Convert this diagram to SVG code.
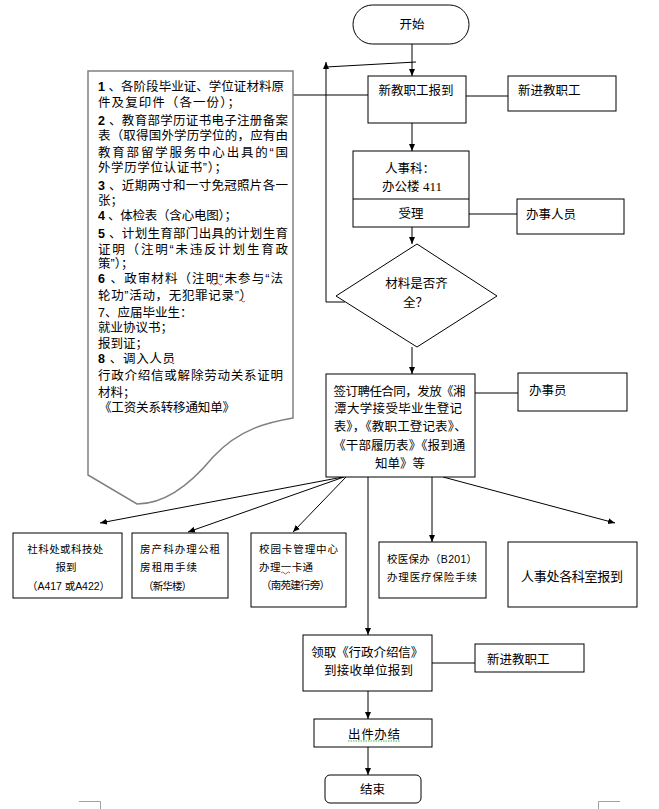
<svg xmlns="http://www.w3.org/2000/svg" width="659" height="809" viewBox="0 0 659 809">
<style>
text{font-family:'Liberation Sans','Noto Sans CJK SC',sans-serif;font-size:12.5px;fill:#000}
.s{font-size:10.5px}
.b{font-weight:bold}
.box{fill:#fff;stroke:#000;stroke-width:1}
.doc{fill:#fff;stroke:#808080;stroke-width:1.5}
.ln{fill:none;stroke:#000;stroke-width:1}
.c{text-anchor:middle}
.sq{fill:none;stroke-width:0.9}
</style>
<defs>
<marker id="arr" viewBox="0 0 8 8" refX="8" refY="4" markerWidth="7" markerHeight="7" orient="auto" markerUnits="userSpaceOnUse"><path d="M0,0.6 L8,4 L0,7.4 z" fill="#000"/></marker>
</defs>
<rect width="659" height="809" fill="#fff"/>

<g id="connectors">
<path class="ln" d="M412,44 V76" marker-end="url(#arr)"/>
<path class="ln" d="M412,123 V151" marker-end="url(#arr)"/>
<path class="ln" d="M412,227 V244" marker-end="url(#arr)"/>
<path class="ln" d="M412,347 V374" marker-end="url(#arr)"/>
<path class="ln" d="M466,96 H508"/>
<path class="ln" d="M293,95 H368"/>
<path class="ln" d="M469,214 H517"/>
<path class="ln" d="M345,302 H326 V62" marker-end="url(#arr)"/>
<path class="ln" d="M326,67 L416,62"/>
<path class="ln" d="M475,393 H518"/>
<path class="ln" d="M343,477 L100,523" marker-end="url(#arr)"/>
<path class="ln" d="M344,477 L188,532" marker-end="url(#arr)"/>
<path class="ln" d="M346,477 L293,532" marker-end="url(#arr)"/>
<path class="ln" d="M368,477 V635" marker-end="url(#arr)"/>
<path class="ln" d="M432,477 V542" marker-end="url(#arr)"/>
<path class="ln" d="M443,477 L615,523" marker-end="url(#arr)"/>
<path class="ln" d="M432,663 H475"/>
<path class="ln" d="M368,691 V719" marker-end="url(#arr)"/>
<path class="ln" d="M368,747 V775" marker-end="url(#arr)"/>
</g>

<g id="materials">
<path class="doc" d="M88,71 H293 V418 C270,422 240,428 213,457 C190,485 165,504 137,504 L88,475 Z"/>
<text>
<tspan x="98" y="90.5" textLength="186" lengthAdjust="spacing"><tspan class="b">1</tspan> 、各阶段毕业证、学位证材料原</tspan>
<tspan x="98" y="106.5" textLength="142" lengthAdjust="spacing">件及复印件（各一份）；</tspan>
<tspan x="98" y="124.5" textLength="190" lengthAdjust="spacing"><tspan class="b">2</tspan> 、教育部学历证书电子注册备案</tspan>
<tspan x="98" y="139.5" textLength="190" lengthAdjust="spacing">表（取得国外学历学位的，应有由</tspan>
<tspan x="98" y="156.5" textLength="190" lengthAdjust="spacing">教育部留学服务中心出具的“国</tspan>
<tspan x="98" y="171.5" textLength="129" lengthAdjust="spacing">外学历学位认证书”）；</tspan>
<tspan x="98" y="189.5" textLength="190" lengthAdjust="spacing"><tspan class="b">3</tspan> 、近期两寸和一寸免冠照片各一</tspan>
<tspan x="98" y="204.5">张；</tspan>
<tspan x="98" y="219.5" textLength="139" lengthAdjust="spacing"><tspan class="b">4</tspan> 、体检表（含心电图）；</tspan>
<tspan x="98" y="237.5" textLength="190" lengthAdjust="spacing"><tspan class="b">5</tspan> 、计划生育部门出具的计划生育</tspan>
<tspan x="98" y="253.5" textLength="190" lengthAdjust="spacing">证明（注明“未违反计划生育政</tspan>
<tspan x="98" y="267.5">策”）；</tspan>
<tspan x="98" y="282.5" textLength="185" lengthAdjust="spacing"><tspan class="b">6</tspan> 、政审材料（注明“未参与“法</tspan>
<tspan x="98" y="299.5" textLength="154" lengthAdjust="spacing">轮功”活动，无犯罪记录”）</tspan>
<tspan x="98" y="316.5">7、应届毕业生：</tspan>
<tspan x="98" y="331.5">就业协议书；</tspan>
<tspan x="98" y="347.5">报到证；</tspan>
<tspan x="98" y="362.5" textLength="77" lengthAdjust="spacing"><tspan class="b">8</tspan> 、调入人员</tspan>
<tspan x="98" y="379.5" textLength="185" lengthAdjust="spacing">行政介绍信或解除劳动关系证明</tspan>
<tspan x="98" y="396.5">材料；</tspan>
<tspan x="99" y="411.5" textLength="136" lengthAdjust="spacing">《工资关系转移通知单》</tspan>
</text>
</g>

<g id="start">
<rect class="box" x="353" y="5" width="116" height="39" rx="19.5"/>
<text class="c" x="412" y="28.5">开始</text>
</g>

<g id="report">
<rect class="box" x="368" y="76" width="98" height="47"/>
<text class="c" x="416" y="94.5">新教职工报到</text>
</g>

<g id="newstaff1">
<rect class="box" x="508" y="76" width="108" height="35"/>
<text x="518" y="94.5">新进教职工</text>
</g>

<g id="hr">
<rect class="box" x="353" y="151" width="116" height="76"/>
<line class="ln" x1="353" y1="199" x2="469" y2="199"/>
<text><tspan x="385" y="172.5">人事科：</tspan><tspan x="382" y="190.5">办公楼 <tspan style="font-family:'Liberation Serif',serif;font-size:13px">411</tspan></tspan></text>
<text class="c" x="411" y="217.5">受理</text>
</g>

<g id="clerk1">
<rect class="box" x="517" y="199" width="107" height="35"/>
<text x="526" y="218.5">办事人员</text>
</g>

<g id="check">
<polygon class="box" points="417,244 497,296 417,347 336,296"/>
<text><tspan class="c" x="416.5" y="287.5">材料是否齐</tspan><tspan x="403" y="306.5">全？</tspan></text>
</g>

<g id="contract">
<rect class="box" x="326" y="374" width="149" height="103"/>
<text class="c">
<tspan x="401" y="395.5" textLength="132" lengthAdjust="spacing">签订聘任合同，发放《湘</tspan>
<tspan x="400" y="412.5" textLength="128" lengthAdjust="spacing">潭大学接受毕业生登记</tspan>
<tspan x="402" y="430.5" textLength="133" lengthAdjust="spacing">表》，《教职工登记表》、</tspan>
<tspan x="401" y="449.5" textLength="132" lengthAdjust="spacing">《干部履历表》《报到通</tspan>
<tspan x="400" y="467.5" textLength="50" lengthAdjust="spacing">知单》等</tspan>
</text>
</g>

<g id="clerk2">
<rect class="box" x="518" y="373" width="109" height="38"/>
<text x="529" y="394.5">办事员</text>
</g>

<g id="research">
<rect class="box" x="13" y="533" width="109" height="65"/>
<text class="c s">
<tspan x="67" y="553" textLength="76" lengthAdjust="spacing">社科处或科技处</tspan>
<tspan x="67.5" y="571" textLength="21" lengthAdjust="spacing">报到</tspan>
<tspan x="68.5" y="590" textLength="83" lengthAdjust="spacing">（A417 或A422）</tspan>
</text>
</g>

<g id="housing">
<rect class="box" x="132" y="533" width="96" height="65"/>
<text class="s">
<tspan x="140" y="553" textLength="80" lengthAdjust="spacing">房产科办理公租</tspan>
<tspan x="140" y="571" textLength="57" lengthAdjust="spacing">房租用手续</tspan>
<tspan x="143" y="590" textLength="49" lengthAdjust="spacing">（新华楼）</tspan>
</text>
</g>

<g id="campuscard">
<rect class="box" x="251" y="533" width="95" height="74"/>
<text class="s">
<tspan x="259" y="553" textLength="79" lengthAdjust="spacing">校园卡管理中心</tspan>
<tspan x="259" y="571" textLength="54" lengthAdjust="spacing">办理一卡通</tspan>
<tspan x="261" y="589" textLength="69" lengthAdjust="spacing">（南苑建行旁）</tspan>
</text>
</g>

<g id="medical">
<rect class="box" x="379" y="542" width="107" height="56"/>
<text class="s">
<tspan x="387" y="563" textLength="90" lengthAdjust="spacing">校医保办（B201）</tspan>
<tspan x="387" y="581" textLength="90" lengthAdjust="spacing">办理医疗保险手续</tspan>
</text>
</g>

<g id="hroffices">
<rect class="box" x="508" y="542" width="129" height="65"/>
<text class="c" x="572" y="581" style="font-size:13px" textLength="102" lengthAdjust="spacing">人事处各科室报到</text>
</g>

<g id="letter">
<rect class="box" x="303" y="635" width="129" height="56"/>
<text class="c">
<tspan x="369" y="656.5" textLength="112" lengthAdjust="spacing">领取《行政介绍信》</tspan>
<tspan x="368.5" y="674.5" textLength="89" lengthAdjust="spacing">到接收单位报到</tspan>
</text>
</g>

<g id="newstaff2">
<rect class="box" x="475" y="644" width="109" height="28"/>
<text x="487" y="663.5">新进教职工</text>
</g>

<g id="finish">
<rect class="box" x="314" y="719" width="118" height="28"/>
<text class="c" x="374" y="738.5" textLength="52" lengthAdjust="spacing">出件办结</text>
</g>

<g id="end">
<rect class="box" x="325" y="775" width="96" height="28" rx="5"/>
<text class="c" x="372.5" y="793.5">结束</text>
</g>

<g id="marks">
<path class="sq" stroke="#e03030" d="M210,284 q1.5,-2 3,0 t3,0 t3,0 t3,0"/>
<path class="sq" stroke="#e03030" d="M239,301 q1.5,-2 3,0 t3,0"/>
<path class="sq" stroke="#e03030" d="M281,573 q1.5,-2 3,0 t3,0 t3,0"/>
<path class="sq" stroke="#30b030" stroke-dasharray="1.5,1" d="M348,741 H400"/>
<path fill="none" stroke="#a0a0a0" stroke-width="1" d="M79,801.5 H100.5 V809 M620,801.5 H598.5 V809"/>
</g>
</svg>
